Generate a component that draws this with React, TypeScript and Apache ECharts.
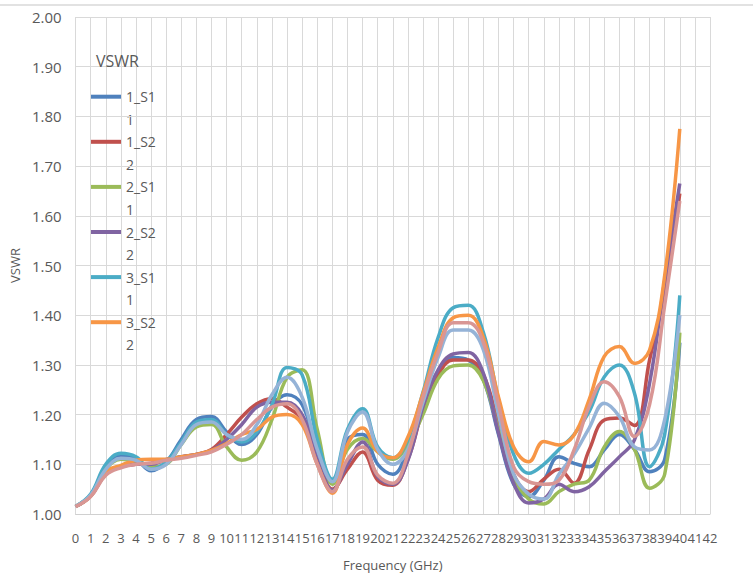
import { useEffect, useRef } from "react";
import * as echarts from "echarts";

const frequencyLabels = [
  "0", "1", "2", "3", "4", "5", "6", "7", "8", "9", "10", "11", "12", "13", "14",
  "15", "16", "17", "18", "19", "20", "21", "22", "23", "24", "25", "26", "27", "28",
  "29", "30", "31", "32", "33", "34", "35", "36", "37", "38", "39", "40", "41", "42",
];

const vswr1S1 = [1.015, 1.038, 1.095, 1.118, 1.11, 1.087, 1.105, 1.15, 1.19, 1.196, 1.165, 1.14, 1.16, 1.215, 1.24, 1.22, 1.13, 1.065, 1.15, 1.16, 1.1, 1.08, 1.13, 1.21, 1.285, 1.315, 1.31, 1.27, 1.16, 1.06, 1.035, 1.068, 1.115, 1.102, 1.095, 1.129, 1.16, 1.13, 1.085, 1.11, 1.345];
const vswr1S2 = [1.015, 1.036, 1.08, 1.095, 1.1, 1.102, 1.108, 1.115, 1.12, 1.13, 1.16, 1.195, 1.222, 1.232, 1.215, 1.19, 1.11, 1.05, 1.09, 1.125, 1.068, 1.058, 1.11, 1.21, 1.28, 1.31, 1.31, 1.28, 1.18, 1.08, 1.045, 1.07, 1.09, 1.062, 1.129, 1.189, 1.193, 1.178, 1.31, 1.45, 1.645];
const vswr2S1 = [1.015, 1.038, 1.09, 1.11, 1.105, 1.095, 1.1, 1.14, 1.175, 1.18, 1.135, 1.108, 1.125, 1.19, 1.275, 1.29, 1.17, 1.06, 1.13, 1.152, 1.125, 1.11, 1.14, 1.2, 1.272, 1.298, 1.3, 1.268, 1.17, 1.075, 1.03, 1.02, 1.045, 1.06, 1.068, 1.135, 1.166, 1.13, 1.052, 1.08, 1.365];
const vswr2S2 = [1.015, 1.036, 1.08, 1.095, 1.1, 1.1, 1.11, 1.115, 1.12, 1.128, 1.15, 1.18, 1.215, 1.225, 1.225, 1.2, 1.12, 1.048, 1.1, 1.145, 1.075, 1.06, 1.108, 1.216, 1.29, 1.322, 1.325, 1.283, 1.163, 1.062, 1.022, 1.03, 1.06, 1.045, 1.055, 1.085, 1.115, 1.149, 1.263, 1.47, 1.665];
const vswr3S1 = [1.015, 1.04, 1.1, 1.122, 1.115, 1.09, 1.105, 1.145, 1.185, 1.19, 1.16, 1.145, 1.165, 1.22, 1.295, 1.28, 1.15, 1.07, 1.17, 1.212, 1.135, 1.113, 1.15, 1.245, 1.355, 1.415, 1.42, 1.365, 1.23, 1.12, 1.082, 1.1, 1.13, 1.16, 1.206, 1.276, 1.3, 1.243, 1.095, 1.16, 1.44];
const vswr3S2 = [1.015, 1.036, 1.085, 1.098, 1.108, 1.11, 1.11, 1.115, 1.12, 1.128, 1.142, 1.16, 1.17, 1.195, 1.2, 1.18, 1.1, 1.042, 1.14, 1.173, 1.125, 1.113, 1.155, 1.243, 1.335, 1.395, 1.4, 1.355, 1.235, 1.135, 1.105, 1.146, 1.139, 1.159, 1.23, 1.317, 1.337, 1.303, 1.33, 1.48, 1.775];
const vswr4S1 = [1.015, 1.038, 1.09, 1.112, 1.108, 1.09, 1.1, 1.14, 1.18, 1.185, 1.16, 1.15, 1.18, 1.24, 1.275, 1.235, 1.13, 1.065, 1.165, 1.205, 1.13, 1.1, 1.13, 1.225, 1.315, 1.37, 1.37, 1.33, 1.2, 1.08, 1.04, 1.03, 1.08, 1.12, 1.173, 1.223, 1.196, 1.135, 1.129, 1.19, 1.4];
const vswr4S2 = [1.015, 1.035, 1.078, 1.093, 1.1, 1.102, 1.108, 1.112, 1.118, 1.125, 1.14, 1.16, 1.19, 1.215, 1.222, 1.19, 1.1, 1.045, 1.11, 1.135, 1.078, 1.062, 1.12, 1.235, 1.325, 1.385, 1.385, 1.345, 1.22, 1.095, 1.065, 1.06, 1.068, 1.129, 1.216, 1.266, 1.236, 1.156, 1.22, 1.42, 1.63];

const seriesNames = ["1_S1\n1", "1_S2\n2", "2_S1\n1", "2_S2\n2", "3_S1\n1", "3_S2\n2", "4_S1\n1", "4_S2\n2"];
const seriesValues = [vswr1S1, vswr1S2, vswr2S1, vswr2S2, vswr3S1, vswr3S2, vswr4S1, vswr4S2];
const seriesColors = ["#4F81BD", "#C0504D", "#9BBB59", "#8064A2", "#4BACC6", "#F79646", "#95B3D7", "#D99694"];
const legendNames = seriesNames.slice(0, 6);

const FONT = "'Open Sans', 'Noto Sans', sans-serif";
const TXT = "#595959";

export default function App() {
  const ref = useRef<HTMLDivElement>(null);
  useEffect(() => {
    if (!ref.current) return;
    const chart = echarts.init(ref.current, null, { renderer: "svg" });
    const LH = 22.6;
    const PITCH = 45.1;
    const FIRST = 96.7;
    const LEG_LEFT = 91;
    const ICON_W = 30;
    const secondLines = legendNames.map((name, i) => ({
      type: "text",
      x: LEG_LEFT + ICON_W + 5,
      y: FIRST + LH + i * PITCH,
      silent: true,
      style: {
        text: name.split("\n")[1],
        fill: TXT,
        font: `14px ${FONT}`,
        align: "left",
        verticalAlign: "middle",
        textVerticalAlign: "middle",
      },
    }));
    chart.setOption({
      animation: false,
      backgroundColor: "#ffffff",
      textStyle: { fontFamily: FONT },
      title: {
        text: "VSWR",
        left: 96,
        top: 53,
        padding: 0,
        textStyle: { fontFamily: FONT, fontSize: 16, fontWeight: "normal", color: TXT },
      },
      graphic: [
        {
          type: "line",
          shape: { x1: 0, y1: 5, x2: 753, y2: 5 },
          style: { stroke: "#d9d9d9", lineWidth: 1.5 },
          silent: true,
        },
        ...secondLines,
      ],
      legend: {
        data: legendNames,
        orient: "vertical",
        left: LEG_LEFT,
        top: FIRST - LH / 2,
        padding: 0,
        itemGap: PITCH - LH,
        itemWidth: ICON_W,
        itemHeight: 4,
        icon: "rect",
        selectedMode: false,
        formatter: (name: string) => name.split("\n")[0],
        textStyle: {
          fontFamily: FONT,
          fontSize: 14,
          color: TXT,
          lineHeight: LH,
        },
      },
      grid: { left: 69, right: 43, top: 17, bottom: 68, containLabel: false },
      xAxis: {
        type: "category",
        data: frequencyLabels,
        boundaryGap: false,
        name: "Frequency (GHz)",
        nameLocation: "middle",
        nameGap: 44,
        nameTextStyle: { fontFamily: FONT, fontSize: 13, color: TXT },
        axisLine: { lineStyle: { color: "#d0d0d0", width: 1 } },
        axisTick: { show: false },
        axisLabel: { interval: 0, margin: 17, fontFamily: FONT, fontSize: 13, color: TXT },
        splitLine: { show: true, interval: 0, lineStyle: { color: "#d9d9d9", width: 1 } },
      },
      yAxis: {
        type: "value",
        min: 1,
        max: 2,
        interval: 0.1,
        name: "VSWR",
        nameLocation: "middle",
        nameGap: 47,
        nameRotate: 90,
        nameTextStyle: { fontFamily: FONT, fontSize: 13, color: TXT },
        axisLine: { show: false },
        axisTick: { show: false },
        axisLabel: {
          margin: 14,
          fontFamily: FONT,
          fontSize: 15,
          color: TXT,
          formatter: (v: number) => v.toFixed(2),
        },
        splitLine: { show: true, lineStyle: { color: "#d9d9d9", width: 1 } },
      },
      series: seriesNames.map((name, i) => ({
        name,
        type: "line",
        data: seriesValues[i],
        smooth: 0.4,
        symbol: "none",
        showSymbol: false,
        color: seriesColors[i],
        lineStyle: { width: 3.5, color: seriesColors[i] },
        z: 2 + i,
      })),
    });
    return () => chart.dispose();
  }, []);
  return (
    <div
      ref={ref}
      style={{ position: "fixed", left: 0, top: 0, width: 753, height: 582 }}
    />
  );
}
